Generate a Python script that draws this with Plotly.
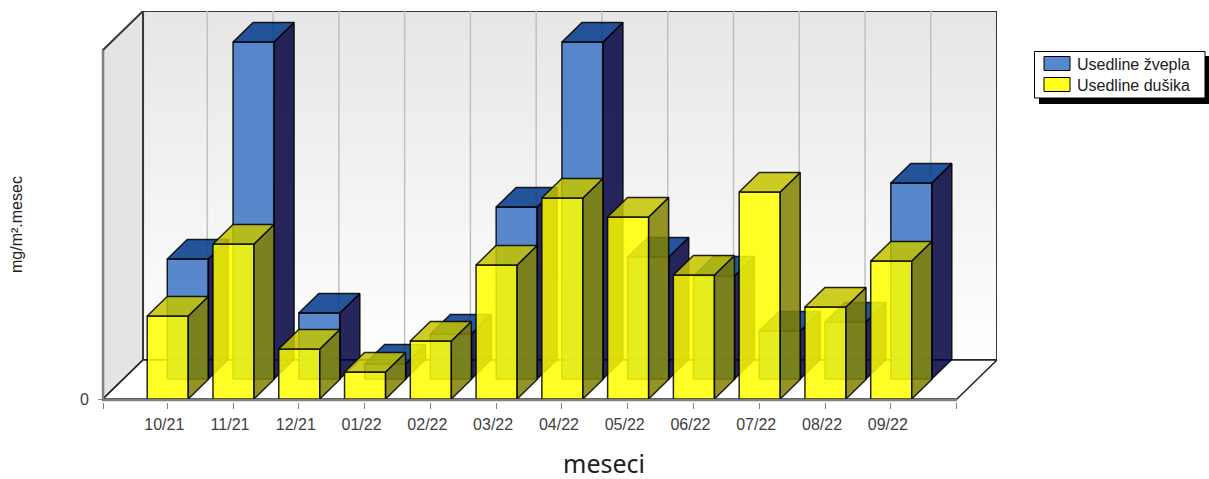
import plotly.graph_objects as go

categories = ["10/21", "11/21", "12/21", "01/22", "02/22", "03/22",
              "04/22", "05/22", "06/22", "07/22", "08/22", "09/22"]
usedline_zvepla = [120, 337, 66, 15, 45, 172, 337, 122, 103, 48, 57, 196]
usedline_dusika = [83, 155, 50, 27, 58, 134, 201, 182, 124, 207, 92, 138]
series_names = ["Usedline žvepla", "Usedline dušika"]
x_title = "meseci"
y_title = "mg/m².mesec"

# axis extents and 3-D projection, in axis units
X_MIN, X_MAX = -0.977, 12.006
Y_MAX = 349
BAR_W = 0.624
BAR_DX, BAR_DY = 0.304, 19.5
WALL_DX, WALL_DY = 0.609, 39
YELLOW_SHIFT = -0.305
BLUE_SHIFT, BLUE_BASE = 0.0, 20
X_PAD, Y_PAD = 5 / 65.7, 3

OUT = "rgba(0,0,0,0.85)"
BLUE = dict(front="rgba(60,115,195,0.85)", side="rgba(0,0,64,0.85)", top="rgba(0,55,138,0.85)")
YELLOW = dict(front="rgba(255,255,0,0.85)", side="rgba(128,128,0,0.85)", top="rgba(196,196,0,0.85)")
SWATCH = ["#5588cc", "#ffff20"]

fig = go.Figure()


def poly(xs, ys, fill, line="rgba(0,0,0,0)", width=0):
    fig.add_trace(go.Scatter(x=xs, y=ys, mode="lines", fill="toself", fillcolor=fill,
                             line=dict(color=line, width=width), hoverinfo="skip",
                             showlegend=False))


def stroke(xs, ys, color, width):
    fig.add_trace(go.Scatter(x=xs, y=ys, mode="lines", line=dict(color=color, width=width),
                             hoverinfo="skip", showlegend=False))


# left wall, back wall, floor
poly([X_MIN, X_MIN + WALL_DX, X_MIN + WALL_DX, X_MIN, X_MIN],
     [0, WALL_DY, Y_MAX + WALL_DY, Y_MAX, 0], "#e4e4e4", "#383838", 2)
fig.add_trace(go.Scatter(
    x=[X_MIN + WALL_DX, X_MAX + WALL_DX, X_MAX + WALL_DX, X_MIN + WALL_DX, X_MIN + WALL_DX],
    y=[WALL_DY, WALL_DY, Y_MAX + WALL_DY, Y_MAX + WALL_DY, WALL_DY],
    mode="lines", fill="toself", line=dict(color="#383838", width=2),
    fillgradient=dict(type="vertical", colorscale=[[0, "#ffffff"], [1, "#e6e6e6"]]),
    hoverinfo="skip", showlegend=False))
poly([X_MIN, X_MIN + WALL_DX, X_MAX + WALL_DX, X_MAX, X_MIN],
     [0, WALL_DY, WALL_DY, 0, 0], "#ffffff", "#202020", 1.5)

# gridlines on the back wall
gx, gy = [], []
for i in range(len(categories)):
    gx += [i + WALL_DX, i + WALL_DX, None]
    gy += [WALL_DY, WALL_DY + Y_MAX, None]
stroke(gx, gy, "#c0c0c0", 1.5)


def bar(i, value, shift, base, colors):
    l = i + shift
    r = l + BAR_W
    b, t = base, base + value
    poly([l, r, r, l, l], [b, b, t, t, b], colors["front"], OUT, 1.5)
    poly([r, r + BAR_DX, r + BAR_DX, r, r],
         [b, b + BAR_DY, t + BAR_DY, t, b], colors["side"], OUT, 1.5)
    poly([l, r, r + BAR_DX, l + BAR_DX, l],
         [t, t, t + BAR_DY, t + BAR_DY, t], colors["top"], OUT, 1.5)


for i, v in enumerate(usedline_zvepla):
    bar(i, v, BLUE_SHIFT, BLUE_BASE, BLUE)
for i, v in enumerate(usedline_dusika):
    bar(i, v, YELLOW_SHIFT, 0, YELLOW)

# axis lines of the front plane
stroke([X_MIN, X_MIN, X_MAX], [Y_MAX, -1, -1], "#808080", 2.5)

# plot area in page pixels
PX_L, PX_R, PX_T, PX_B = 98, 997, 11, 402
FLOOR_PX = 399
px = lambda v: (v - PX_L) / (PX_R - PX_L)
py = lambda v: (PX_B - v) / (PX_B - PX_T)


def rect(x0, x1, y0, y1, fill, line=None):
    return dict(type="rect", xref="paper", yref="paper", x0=px(x0), x1=px(x1),
                y0=py(y0), y1=py(y1), fillcolor=fill,
                line=dict(color=line or fill, width=1 if line else 0), layer="above")


def label(text, x, y, size, family="Liberation Sans", angle=0, xanchor="center", color="#202020"):
    return dict(text=text, xref="paper", yref="paper", x=px(x), y=py(y), showarrow=False,
                xanchor=xanchor, yanchor="middle", textangle=angle,
                font=dict(family=family, size=size, color=color))


shapes = [rect(1039, 1212, 56, 104, "#000000"), rect(1034.5, 1205, 51.5, 98, "#ffffff", "#000000")]
annotations = [label(x_title, 603.5, 462.5, 25, family="Noto Sans"),
               label(y_title, 16, 225, 16, angle=-90)]
for (top, name, col) in zip([56.5, 77.5], series_names, SWATCH):
    shapes.append(rect(1044, 1070, top, top + 14, col, "#000000"))
    annotations.append(label(name, 1074.5, top + 7.5, 16, xanchor="left"))

fig.update_layout(
    width=1209, height=479, autosize=False, showlegend=False,
    margin=dict(l=PX_L, r=1209 - PX_R, t=PX_T, b=479 - PX_B, pad=0),
    paper_bgcolor="#ffffff", plot_bgcolor="rgba(0,0,0,0)",
    font=dict(family="Liberation Sans", color="#404040", size=16),
    xaxis=dict(range=[X_MIN - X_PAD, X_MAX + WALL_DX], showgrid=False, zeroline=False,
               showline=False, ticks="outside", ticklen=6, tickcolor="#808080", tickwidth=1,
               tickmode="array",
               tickvals=[X_MIN] + list(range(len(categories))) + [X_MAX],
               ticktext=[""] + categories + [""],
               ticklabelstandoff=2, ticklabelshift=-3,
               tickfont=dict(size=16, color="#404040")),
    yaxis=dict(range=[-Y_PAD, Y_MAX + WALL_DY], showgrid=False, zeroline=False,
               showline=False, ticks="inside", ticklen=5, tickcolor="#808080", tickwidth=1,
               tickmode="array", tickvals=[0], ticktext=["0"], ticklabelstandoff=8,
               tickfont=dict(size=16, color="#404040")),
    shapes=shapes, annotations=annotations,
)

fig.write_html("out.html", config={"displayModeBar": False},
               post_script="document.body.style.margin='0';")
